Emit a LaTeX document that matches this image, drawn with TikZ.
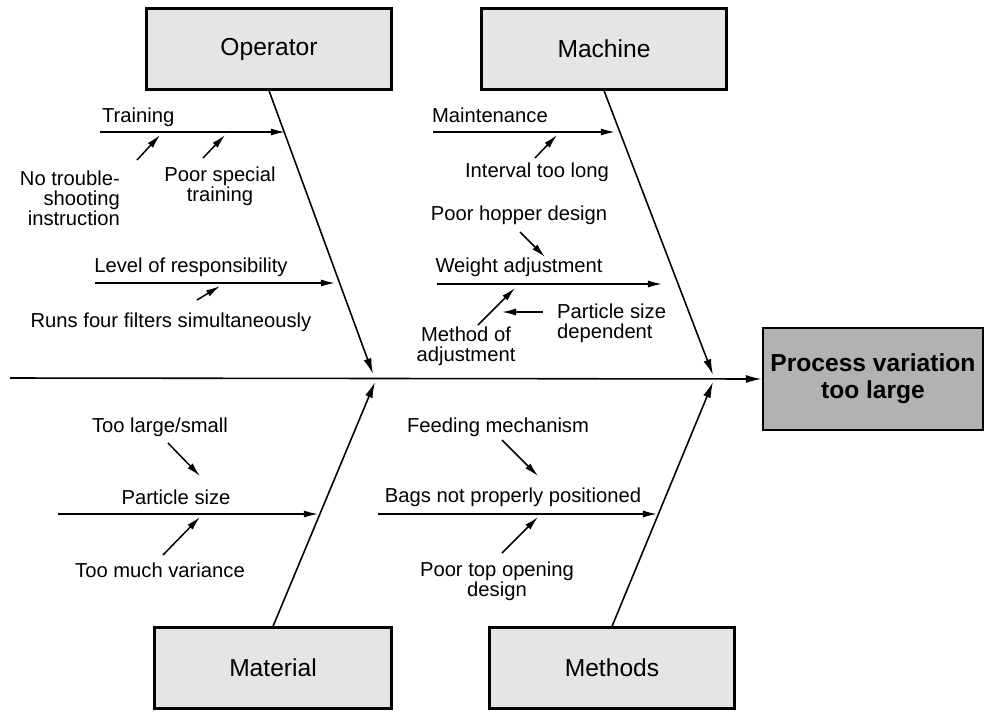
\documentclass[tikz,border=0pt]{standalone}
\usepackage{fontspec}
\setmainfont{Liberation Sans}
\usetikzlibrary{arrows.meta, positioning}

\begin{document}
\begin{tikzpicture}[
  x=0.02cm, y=-0.02cm,
  every node/.style={font=\fontsize{11.5}{11.5}\selectfont, inner sep=1pt},
  catbox/.style={
    rectangle, draw, line width=1.3pt, fill=black!10,
    minimum width=4.9cm, minimum height=1.62cm,
    font=\fontsize{14}{16}\selectfont
  },
  effectbox/.style={
    rectangle, draw, line width=1.5pt, fill=black!30,
    minimum width=4.4cm, minimum height=2.04cm, align=center,
    font=\fontsize{14}{15.5}\selectfont\bfseries
  },
  bone/.style={line width=0.9pt, -{Latex[length=9pt,width=4.5pt]}},
  twig/.style={line width=0.85pt, -{Latex[length=8pt,width=4pt]}},
  cause/.style={align=center}
]
\useasboundingbox (0,0) rectangle (985,711);

% Effect and spine
\node[effectbox] (effect) at (873,379) {Process variation\\too large};
\coordinate (spinetail) at (10,378);
\draw[bone] (spinetail) -- (effect.west);

% Category boxes
\node[catbox] (operator) at (269,49)  {Operator};
\node[catbox] (machine)  at (604,49)  {Machine};
\node[catbox, minimum width=4.74cm] (material) at (273,668) {Material};
\node[catbox] (methods)  at (612,668) {Methods};

\coordinate (opjoin)  at (373,374);
\coordinate (macjoin) at (713,375);
\coordinate (matjoin) at (375,382);
\coordinate (metjoin) at (713,382);
\draw[bone] (operator.south) -- (opjoin);
\draw[bone] (machine.south)  -- (macjoin);
\draw[bone] (material.north) -- (matjoin);
\draw[bone] (methods.north)  -- (metjoin);

% Operator
\node[anchor=west] (training) at (100,117) {Training};
\coordinate (traintail) at (100,132);
\coordinate (trainhead) at (285,132);
\draw[twig] (traintail) -- (trainhead);
\node[align=right, anchor=east] (notrouble) at (122,198) {No trouble-\\shooting\\instruction};
\node[cause] (poorspecial) at (220,186) {Poor special\\training};
\coordinate (nt1) at (137,160); \coordinate (nt2) at (160,135);
\coordinate (ps1) at (203,158); \coordinate (ps2) at (225,135);
\draw[twig] (nt1) -- (nt2);
\draw[twig] (ps1) -- (ps2);

\node (level) at (191,267) {Level of responsibility};
\coordinate (leveltail) at (95,283);
\coordinate (levelhead) at (335,283);
\draw[twig] (leveltail) -- (levelhead);
\node (runsfour) at (171,322) {Runs four filters simultaneously};
\coordinate (rf1) at (197,300); \coordinate (rf2) at (220,286);
\draw[twig] (rf1) -- (rf2);

% Machine
\node[anchor=west] (maint) at (430,115) {Maintenance};
\coordinate (mainttail) at (433,132);
\coordinate (mainthead) at (615,132);
\draw[twig] (mainttail) -- (mainthead);
\node (interval) at (537,172) {Interval too long};
\coordinate (il1) at (535,158); \coordinate (il2) at (557,135);
\draw[twig] (il1) -- (il2);

\node (hopper) at (519,215) {Poor hopper design};
\node (weight) at (519,267) {Weight adjustment};
\coordinate (weighttail) at (437,284);
\coordinate (weighthead) at (662,284);
\draw[twig] (weighttail) -- (weighthead);
\coordinate (ph1) at (520,232); \coordinate (ph2) at (545,257);
\draw[twig] (ph1) -- (ph2);
\node[align=left, anchor=west] (dependent) at (555,323) {Particle size\\dependent};
\node[cause] (method) at (466,346) {Method of\\adjustment};
\coordinate (ma1) at (478,325); \coordinate (ma2) at (515,288);
\coordinate (pd1) at (543,312); \coordinate (pd2) at (502,312);
\draw[twig] (ma1) -- (ma2);
\draw[twig] (pd1) -- (pd2);

% Material
\node (toolarge) at (160,427) {Too large/small};
\node (partsize) at (176,497) {Particle size};
\coordinate (parttail) at (58,514);
\coordinate (parthead) at (318,514);
\draw[twig] (parttail) -- (parthead);
\node (variance) at (160,570) {Too much variance};
\coordinate (tl1) at (168,443); \coordinate (tl2) at (200,476);
\coordinate (tv1) at (163,555); \coordinate (tv2) at (200,517);
\draw[twig] (tl1) -- (tl2);
\draw[twig] (tv1) -- (tv2);

% Methods
\node (feeding) at (498,427) {Feeding mechanism};
\node (bags) at (513,497) {Bags not properly positioned};
\coordinate (bagstail) at (378,514);
\coordinate (bagshead) at (657,514);
\draw[twig] (bagstail) -- (bagshead);
\node[cause] (toponing) at (497,581) {Poor top opening\\design};
\coordinate (fm1) at (502,440); \coordinate (fm2) at (538,476);
\coordinate (to1) at (502,553); \coordinate (to2) at (538,517);
\draw[twig] (fm1) -- (fm2);
\draw[twig] (to1) -- (to2);

\end{tikzpicture}
\end{document}
